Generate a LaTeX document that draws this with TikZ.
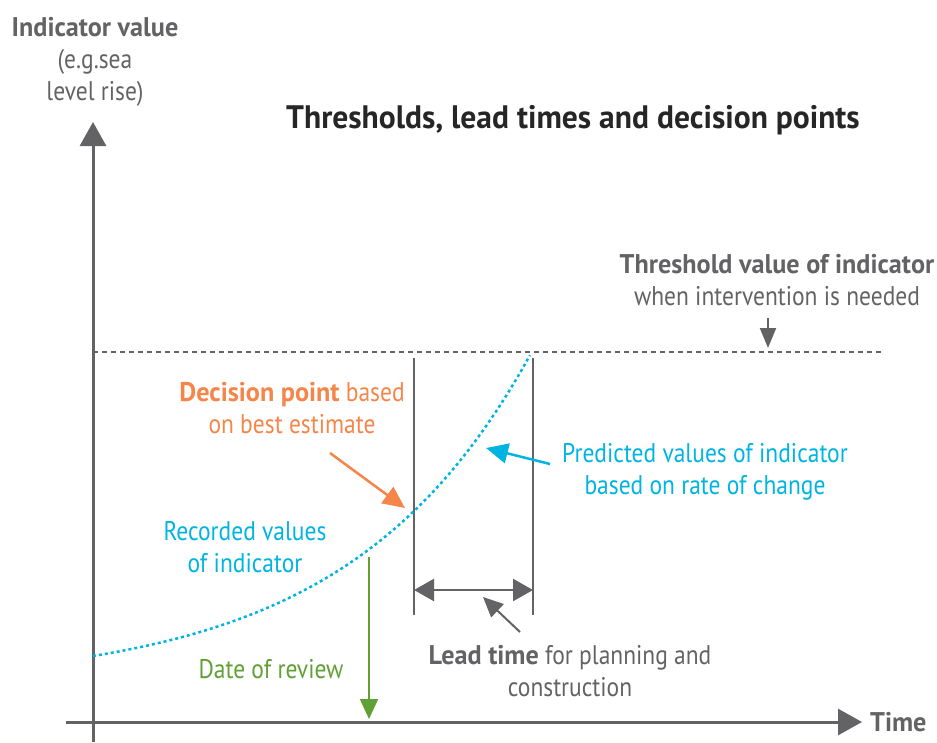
\documentclass[tikz,border=0pt]{standalone}
\usepackage{fontspec}
\setmainfont{PT Sans}[FakeStretch=0.87]
\newfontfamily\boldf{PT Sans}[FakeStretch=0.97]
\newcommand{\bt}[1]{{\boldf\bfseries #1}}
\usetikzlibrary{arrows.meta}
\definecolor{dgray}{RGB}{99,99,101}
\definecolor{cyanc}{RGB}{0,180,226}
\definecolor{orangec}{RGB}{245,133,73}
\definecolor{greenc}{RGB}{96,160,52}
\begin{document}
\begin{tikzpicture}[x=1pt,y=-1pt,
  every node/.style={inner sep=0pt,align=center,font=\fontsize{27}{32}\selectfont},
  axis/.style={draw=dgray,line width=3pt,-{Triangle[width=26pt,length=24pt]}},
  vline/.style={draw=dgray,line width=2.5pt},
  thr/.style={draw=dgray,line width=1.5pt,dash pattern=on 5pt off 4pt},
  curvestyle/.style={draw=cyanc,line width=2.5pt,dash pattern=on 3pt off 3pt},
  pointer/.style={line width=2.5pt,-{Triangle[width=20pt,length=22pt]}}
]
\useasboundingbox (0,0) rectangle (937,742);
% axes
\coordinate (ybot) at (93,742);
\coordinate (ytop) at (93,122);
\coordinate (xl) at (66,722);
\coordinate (xr) at (862,722);
\draw[axis] (ybot) -- (ytop);
\draw[axis] (xl) -- (xr);
% threshold line
\coordinate (tl) at (93,352);
\coordinate (tr) at (883,352);
\draw[thr] (tl) -- (tr);
% vertical lines
\coordinate (v1t) at (414,358);
\coordinate (v1b) at (414,615);
\coordinate (v2t) at (533,358);
\coordinate (v2b) at (533,615);
\draw[vline] (v1t) -- (v1b);
\draw[vline] (v2t) -- (v2b);
\coordinate (la) at (414,590);
\coordinate (lb) at (533,590);
\draw[draw=dgray,line width=2.5pt,{Triangle[width=22pt,length=20pt]}-{Triangle[width=22pt,length=20pt]}] (la) -- (lb);
% curve
\draw[curvestyle] plot[domain=93:530,samples=80] (\x,{656-30*(exp(0.0055*(\x-93))-1)});
% texts
\node[text=dgray] (ylab) at (95,27) {\bt{Indicator value}};
\node[text=dgray] (ylab2) at (95,78) {(e.g.sea\\level rise)};
\node[font=\fontsize{32.5}{40}\selectfont,text=black!85] (title) at (573,120) {\bt{Thresholds, lead times and decision points}};
\node[text=dgray] (thrlab) at (777,280) {\bt{Threshold value of indicator}\\when intervention is needed};
\node[text=orangec] (dec) at (292,408) {\bt{Decision point} based\\on best estimate};
\node[text=cyanc] (pred) at (705,472) {Predicted values of indicator\\based on rate of change};
\node[text=cyanc] (rec) at (245,547) {Recorded values\\of indicator};
\node[text=greenc] (rev) at (271,669) {Date of review};
\node[text=dgray] (lead) at (570,671) {\bt{Lead time} for planning and\\construction};
\node[text=dgray,anchor=west] (time) at (870,722) {\bt{Time}};
% pointers
\coordinate (thrA) at (768,318);
\coordinate (thrB) at (768,348);
\draw[draw=dgray,fill=dgray,line width=2pt,-{Triangle[width=16pt,length=20pt]}] (thrA) -- (thrB);
\coordinate (decA) at (330,453);
\coordinate (decB) at (405,508);
\draw[pointer,draw=orangec,fill=orangec] (decA) -- (decB);
\coordinate (predA) at (550,464);
\coordinate (predB) at (486,448);
\draw[pointer,draw=cyanc,fill=cyanc] (predA) -- (predB);
\coordinate (revA) at (369,557);
\coordinate (revB) at (369,719);
\draw[draw=greenc,fill=greenc,line width=2pt,-{Triangle[width=18pt,length=20pt]}] (revA) -- (revB);
\coordinate (leadA) at (520,632);
\coordinate (leadB) at (483,597);
\draw[draw=dgray,fill=dgray,line width=2pt,-{Triangle[width=18pt,length=20pt]}] (leadA) -- (leadB);
\end{tikzpicture}
\end{document}
